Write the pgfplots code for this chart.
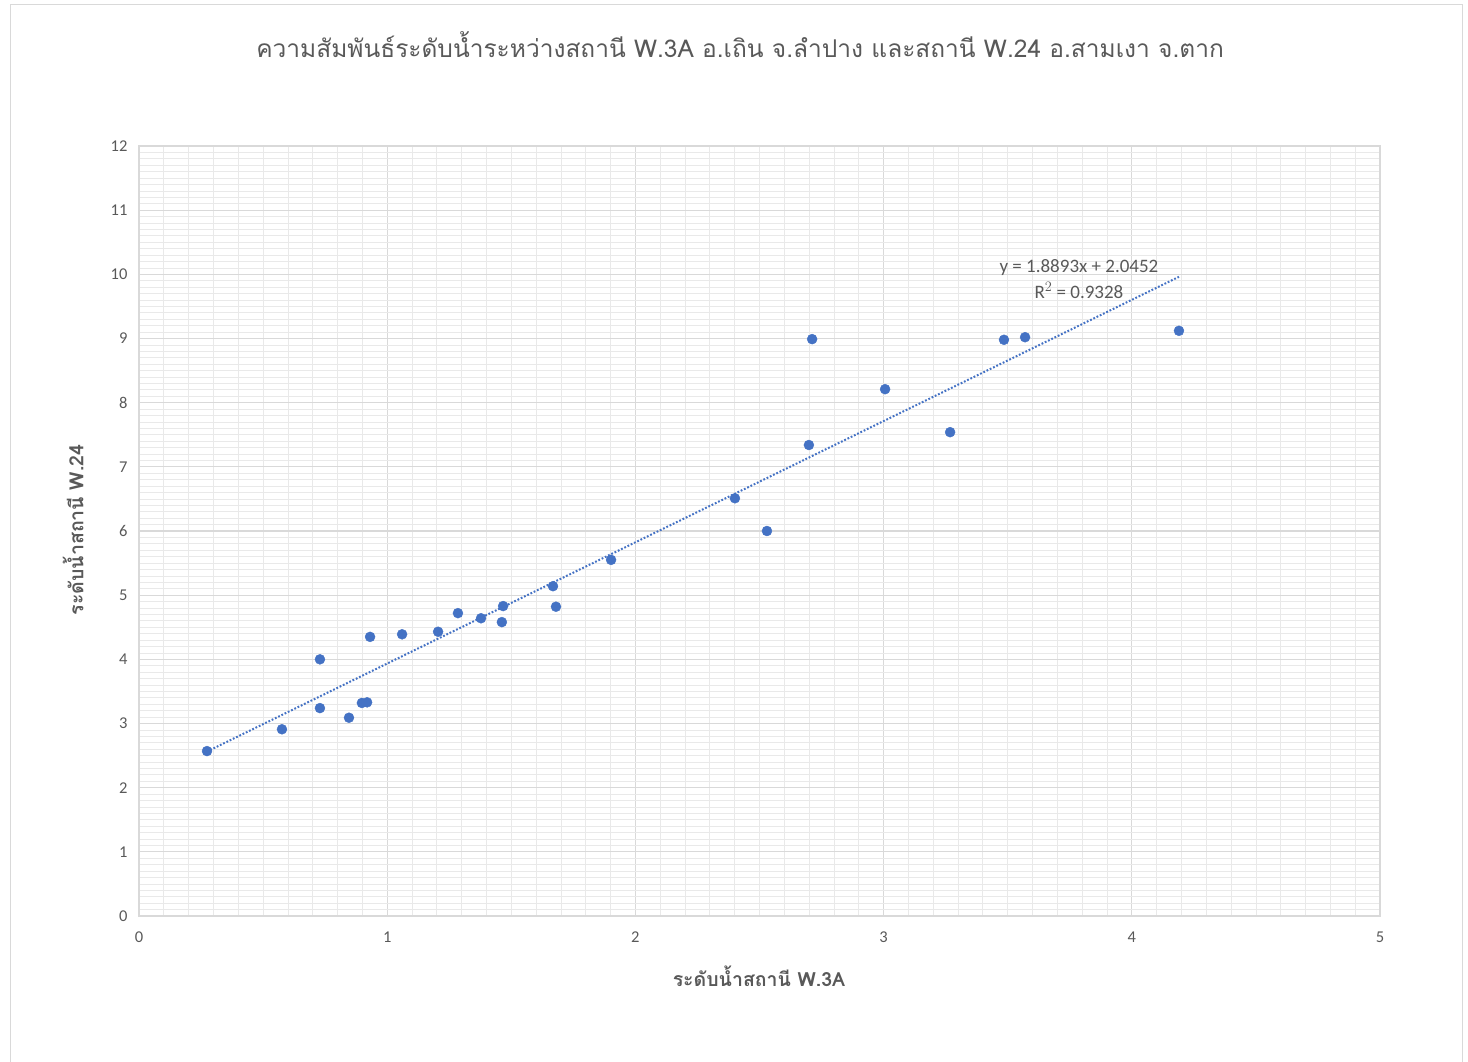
\documentclass[border=0pt]{standalone}
\usepackage{pgfplots}
\pgfplotsset{compat=1.18}
\usepackage{fontspec}
\setmainfont{Carlito}
\newfontfamily\thaifont[Script=Thai]{Loma}
\definecolor{ptblue}{HTML}{4472C4}
\definecolor{txtgray}{HTML}{595959}
\definecolor{majgrid}{HTML}{D9D9D9}
\definecolor{mingrid}{HTML}{E9E9E9}
\begin{document}
\begin{tikzpicture}[x=1pt,y=1pt]
\useasboundingbox (0,0) rectangle (1468,1061);
\draw[majgrid, line width=1pt] (10,-2) rectangle (1462,1056);
\begin{axis}[
  at={(139pt,145pt)}, anchor=south west,
  scale only axis, width=1241pt, height=770pt,
  xmin=0, xmax=5, ymin=0, ymax=12,
  xtick={0,1,2,3,4,5}, ytick={0,1,...,12},
  minor x tick num=9, minor y tick num=9,
  grid=both,
  major grid style={majgrid, line width=1.2pt},
  minor grid style={mingrid, line width=0.8pt},
  axis line style={majgrid, line width=1.2pt},
  tick style={draw=none},
  ticklabel style={font=\fontsize{16.5}{18}\selectfont, text=txtgray},
  /pgf/number format/assume math mode=true,
  xticklabel style={yshift=-12pt},
  yticklabel style={xshift=-8pt},
]
\addplot[ptblue, dash pattern=on 1.8pt off 1.8pt, line width=2pt] coordinates {(0.274,2.5629) (4.19,9.9614)};
\addplot[only marks, mark=*, mark size=5pt, mark options={fill=ptblue, draw=ptblue}] coordinates {
(0.274,2.57) (0.576,2.91) (0.729,4.00) (0.729,3.24) (0.846,3.09) (0.898,3.32)
(0.919,3.33) (0.931,4.35) (1.060,4.39) (1.205,4.43) (1.285,4.72) (1.378,4.64)
(1.462,4.58) (1.467,4.83) (1.668,5.14) (1.680,4.82) (1.902,5.55) (2.401,6.51)
(2.530,6.00) (2.699,7.34) (2.712,8.99) (3.006,8.21) (3.268,7.54) (3.485,8.98)
(3.570,9.02) (4.190,9.12)
};
\node[text=txtgray, font=\fontsize{19}{21}\selectfont] at (axis cs:3.787,10.11) {y = 1.8893x + 2.0452};
\node[text=txtgray, font=\fontsize{19}{21}\selectfont] at (axis cs:3.787,9.75) {R$^2$ = 0.9328};
\end{axis}
\node[text=txtgray, font=\thaifont\fontsize{24.5}{28}\selectfont] at (740,1016) {ความสัมพันธ์ระดับน้ำระหว่างสถานี W.3A อ.เถิน จ.ลำปาง และสถานี W.24 อ.สามเงา จ.ตาก};
\node[text=txtgray, font=\thaifont\bfseries\fontsize{19.5}{22}\selectfont] at (759,85) {ระดับน้ำสถานี W.3A};
\node[text=txtgray, font=\thaifont\bfseries\fontsize{19.5}{22}\selectfont, rotate=90] at (73,531) {ระดับน้ำสถานี W.24};
\end{tikzpicture}
\end{document}
